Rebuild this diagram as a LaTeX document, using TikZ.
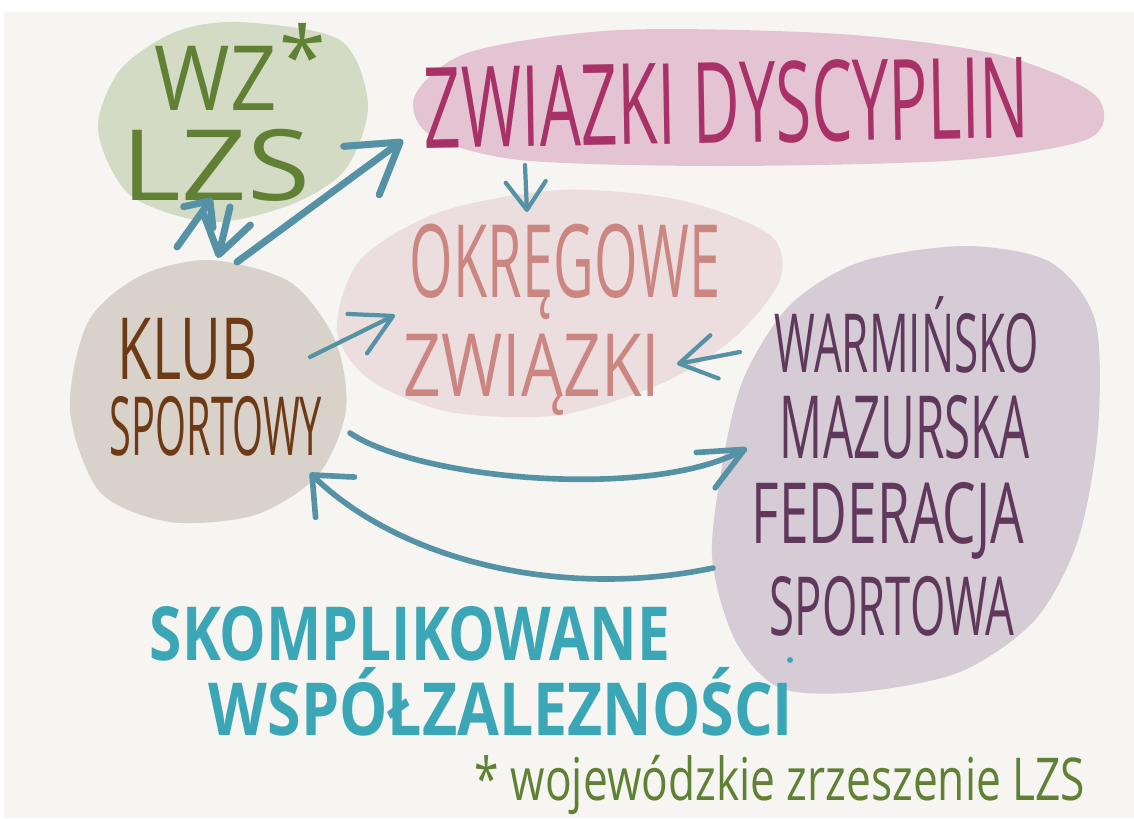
\documentclass[tikz,border=0pt]{standalone}
\usepackage{fontspec}
\setmainfont{Open Sans}
\usepackage{graphicx}
\usepackage{xcolor}
\definecolor{paper}{RGB}{246,245,241}
\definecolor{wzbg}{RGB}{211,219,197}
\definecolor{wzink}{RGB}{96,128,52}
\definecolor{dyscbg}{RGB}{228,196,211}
\definecolor{dyscink}{RGB}{168,50,104}
\definecolor{okrbg}{RGB}{236,222,222}
\definecolor{okrink}{RGB}{204,134,130}
\definecolor{klubbg}{RGB}{216,210,203}
\definecolor{klubink}{RGB}{110,58,22}
\definecolor{wmfsbg}{RGB}{213,204,214}
\definecolor{wmfsink}{RGB}{96,56,92}
\definecolor{arrowc}{RGB}{86,146,166}
\definecolor{chalk}{RGB}{58,166,182}
\usetikzlibrary{arrows.meta,positioning,calc}

% size, width, text
\newcommand{\handw}[3]{{\fontsize{#1}{#1}\selectfont\resizebox{#2}{\height}{#3}}}

\begin{document}
\begin{tikzpicture}[x=0.025cm, y=-0.025cm,
        lbl/.style={inner sep=0pt, anchor=base},
        link/.style={draw=arrowc, line width=4pt, line cap=round, line join=round},
        barb/.style 2 args={-{Straight Barb[length=#1,width=#2,round]}}]
    \useasboundingbox (0,0) rectangle (1134,818);
    \fill[white] (0,0) rectangle (1134,818);
    \fill[paper] (4,12) rectangle (1134,818);

    % blobs
    \fill[dyscbg] plot[smooth cycle] coordinates {(415,95) (470,52) (620,30) (840,34) (1000,55) (1095,95) (1090,138) (960,160) (720,166) (520,160) (430,135)};
    \fill[wzbg] plot[smooth cycle] coordinates {(240,22) (340,40) (368,105) (345,170) (290,205) (210,222) (130,195) (98,130) (120,70) (175,32)};
    \fill[okrbg] plot[smooth cycle] coordinates {(560,190) (680,200) (770,235) (780,280) (735,337) (665,382) (560,415) (450,412) (370,380) (337,330) (360,260) (440,212)};
    \fill[klubbg] plot[smooth cycle] coordinates {(210,260) (290,282) (335,340) (346,410) (318,475) (255,515) (170,522) (100,492) (70,410) (88,322) (140,276)};
    \fill[wmfsbg] plot[smooth cycle] coordinates {(965,246) (1050,262) (1095,320) (1098,430) (1078,540) (1035,620) (960,672) (860,692) (780,688) (735,640) (712,555) (725,450) (745,375) (790,305) (860,262)};
    \fill[chalk] (790,660) circle (3);

    % labels
    \node[lbl, text=wzink] (wz1) at (216,110) {\handw{64}{3.05cm}{WZ}};
    \node[lbl, text=wzink] (wz2) at (216,200) {\handw{70}{4.7cm}{LZS}};
    \node[lbl, text=wzink] (wzstar) at (303,87) {\fontsize{60}{60}\selectfont *};
    \node[lbl, text=dyscink, rotate=1] (dysc) at (727,143) {\handw{80}{15.1cm}{ZWIAZKI DYSCYPLIN}};
    \node[lbl, text=okrink] (okr1) at (565,297) {\handw{72}{7.75cm}{OKRĘGOWE}};
    \node[lbl, text=okrink] (okr2) at (532,396) {\handw{62}{6.4cm}{ZWIĄZKI}};
    \node[lbl, text=klubink] (klub1) at (188,379) {\handw{61}{3.5cm}{KLUB}};
    \node[lbl, text=klubink] (klub2) at (216,455) {\handw{58}{5.3cm}{SPORTOWY}};
    \node[lbl, text=wmfsink] (wmfs1) at (907,372) {\handw{58}{6.6cm}{WARMIŃSKO}};
    \node[lbl, text=wmfsink] (wmfs2) at (905,458) {\handw{62}{6.25cm}{MAZURSKA}};
    \node[lbl, text=wmfsink] (wmfs3) at (888,543) {\handw{60}{6.8cm}{FEDERACJA}};
    \node[lbl, text=wmfsink] (wmfs4) at (892,635) {\handw{58}{6.1cm}{SPORTOWA}};
    \node[lbl, text=chalk, font=\bfseries] (note1) at (410,660) {\handw{53}{13cm}{SKOMPLIKOWANE}};
    \node[lbl, text=chalk, font=\bfseries] (note2) at (501,735) {\handw{52}{14.6cm}{WSPÓŁZALEZNOŚCI}};
    \node[lbl, text=wzink] (foot) at (780,800) {\handw{42}{15.25cm}{* wojewódzkie zrzeszenie LZS}};

    % arrow ends
    \coordinate (klub-up) at (177,247);
    \coordinate (wz-in) at (212,198);
    \coordinate (wz-out) at (230,207);
    \coordinate (klub-in) at (218,258);
    \coordinate (klub-ne) at (237,262);
    \coordinate (dysc-in) at (403,140);
    \coordinate (dysc-out) at (525,165);
    \coordinate (okr-top) at (527,212);
    \coordinate (klub-e) at (310,357);
    \coordinate (okr-w) at (395,315);
    \coordinate (wmfs-w) at (740,352);
    \coordinate (okr-e) at (677,364);
    \coordinate (klub-se) at (350,433);
    \coordinate (wmfs-in) at (747,448);
    \coordinate (wmfs-out) at (713,568);
    \coordinate (klub-s) at (310,473);

    \draw[link, line width=5pt, barb={5mm}{9mm}] (klub-up) -- (wz-in);
    \draw[link, line width=5pt, barb={9mm}{12mm}] (wz-out) -- (klub-in);
    \draw[link, line width=5pt, barb={12mm}{15mm}] (klub-ne) -- (dysc-in);
    \draw[link, line width=3pt, barb={7mm}{10mm}] (dysc-out) -- (okr-top);
    \draw[link, line width=3pt, barb={10mm}{11mm}] (klub-e) -- (okr-w);
    \draw[link, line width=3pt, barb={9mm}{11mm}] (wmfs-w) -- (okr-e);
    \draw[link, barb={11mm}{10mm}] (klub-se) .. controls (420,480) and (650,500) .. (wmfs-in);
    \draw[link, barb={8mm}{14mm}] (wmfs-out) .. controls (560,600) and (400,560) .. (klub-s);
    % \draw[link] (okr1) -- (wmfs1);
\end{tikzpicture}
\end{document}
